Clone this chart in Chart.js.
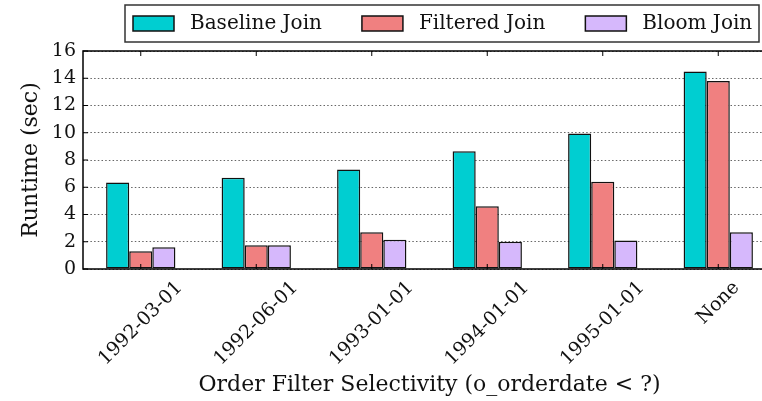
<!DOCTYPE html>
<html><head><meta charset="utf-8">
<script src="https://cdn.jsdelivr.net/npm/chart.js@4.4.1/dist/chart.umd.min.js"></script>
<style>
html,body{margin:0;padding:0;overflow:hidden;background:#fff;width:762px;height:401px}
#wrap{width:790px;height:401px;position:relative}
</style>
</head><body>
<div id="wrap"><canvas id="c" width="790" height="401"></canvas></div>
<script>
// ---- data ----
const categories = ['1992-03-01', '1992-06-01', '1993-01-01', '1994-01-01', '1995-01-01', 'None'];
const seriesNames = ['Baseline Join', 'Filtered Join', 'Bloom Join'];
const baselineJoin = [6.35, 6.7, 7.3, 8.65, 9.95, 14.5];
const filteredJoin = [1.3, 1.75, 2.7, 4.6, 6.4, 13.8];
const bloomJoin = [1.6, 1.75, 2.15, 2.0, 2.1, 2.7];
const yTickValues = [0, 2, 4, 6, 8, 10, 12, 14, 16];
const xTitle = 'Order Filter Selectivity (o_orderdate < ?)';
const yTitle = 'Runtime (sec)';

const seriesColors = ['#00CED1', '#F08080', '#D6B8FC'];
const FONT = 'DejaVu Serif';
const TICK_SIZE = 19;

const framePlugin = {
  id: 'frame',
  afterDraw(chart) {
    const {ctx, chartArea: a, scales: {x, y}} = chart;
    ctx.save();
    const line = (x1, y1, x2, y2) => { ctx.beginPath(); ctx.moveTo(x1, y1); ctx.lineTo(x2, y2); ctx.stroke(); };
    ctx.strokeStyle = '#000';
    ctx.lineWidth = 1;
    y.ticks.forEach((t, i) => {
      const py = y.getPixelForTick(i);
      line(a.left, py, a.left + 5, py);
      line(a.right, py, a.right - 5, py);
    });
    x.ticks.forEach((t, i) => {
      const px = x.getPixelForTick(i);
      line(px, a.bottom, px, a.bottom - 5);
      line(px, a.top, px, a.top + 5);
    });
    ctx.lineWidth = 1.5;
    ctx.beginPath();
    ctx.moveTo(a.left, a.bottom); ctx.lineTo(a.left, a.top); ctx.lineTo(a.right, a.top);
    ctx.lineTo(a.right, a.bottom); ctx.closePath(); ctx.stroke();

    // rotated category labels, centred under their ticks
    ctx.font = TICK_SIZE + 'px "' + FONT + '"';
    ctx.fillStyle = '#111';
    ctx.textAlign = 'center';
    ctx.textBaseline = 'middle';
    const lh = TICK_SIZE * 1.16;
    x.ticks.forEach((t, i) => {
      const label = x.getLabelForValue(t.value);
      const px = x.getPixelForTick(i);
      const w = ctx.measureText(label).width;
      const cy = a.bottom + 8 + (w + lh) * Math.SQRT1_2 / 2;
      ctx.save();
      ctx.translate(px, cy);
      ctx.rotate(-Math.PI / 4);
      ctx.fillText(label, 0, 0);
      ctx.restore();
    });
    ctx.restore();
  }
};

const legendPlugin = {
  id: 'boxLegend',
  afterDraw(chart) {
    const ctx = chart.ctx;
    ctx.save();
    ctx.font = '20px "' + FONT + '"';
    ctx.textBaseline = 'middle';
    ctx.textAlign = 'left';
    let xPos = 133;
    const swTop = 16, swH = 15, swW = 41, textY = 23.5;
    chart.data.datasets.forEach(ds => {
      ctx.fillStyle = ds.backgroundColor;
      ctx.fillRect(xPos, swTop, swW, swH);
      ctx.strokeStyle = '#111';
      ctx.lineWidth = 1.5;
      ctx.strokeRect(xPos, swTop, swW, swH);
      ctx.fillStyle = '#111';
      const tx = xPos + swW + 16;
      ctx.fillText(ds.label, tx, textY);
      xPos = tx + ctx.measureText(ds.label).width + 40;
    });
    ctx.strokeStyle = '#333';
    ctx.lineWidth = 1.5;
    ctx.strokeRect(125, 5, 634, 37);
    ctx.restore();
  }
};

const valuesBySeries = [baselineJoin, filteredJoin, bloomJoin];

new Chart(document.getElementById('c'), {
  type: 'bar',
  data: {
    labels: categories,
    datasets: seriesNames.map((name, i) => ({
      label: name,
      data: valuesBySeries[i],
      backgroundColor: seriesColors[i],
      borderColor: '#111',
      borderWidth: 1.5,
      borderSkipped: false,
      categoryPercentage: 0.6,
      barPercentage: 1.0
    }))
  },
  options: {
    responsive: false,
    animation: false,
    devicePixelRatio: 1,
    layout: {padding: {top: 51, right: 14, bottom: 0, left: 0}},
    plugins: {legend: {display: false}, tooltip: {enabled: false}},
    scales: {
      x: {
        grid: {display: false, drawTicks: false},
        border: {display: false},
        ticks: {display: false, autoSkip: false},
        title: {display: true, text: xTitle, font: {family: FONT, size: 22}, color: '#111', padding: {top: 0, bottom: 3}},
        afterFit(s) { s.height = 132; }
      },
      y: {
        z: 1,
        min: 0, max: 16,
        afterBuildTicks(s) { s.ticks = yTickValues.map(v => ({value: v})); },
        grid: {color: '#666', lineWidth: 1, drawTicks: false},
        border: {display: false, dash: [1.5, 2.2]},
        ticks: {font: {family: FONT, size: TICK_SIZE}, color: '#111', padding: 7},
        title: {display: true, text: yTitle, font: {family: FONT, size: 22}, color: '#111', padding: {top: 18, bottom: 0}},
        afterFit(s) { s.width = 83; }
      }
    }
  },
  plugins: [framePlugin, legendPlugin]
});
</script>
</body></html>
